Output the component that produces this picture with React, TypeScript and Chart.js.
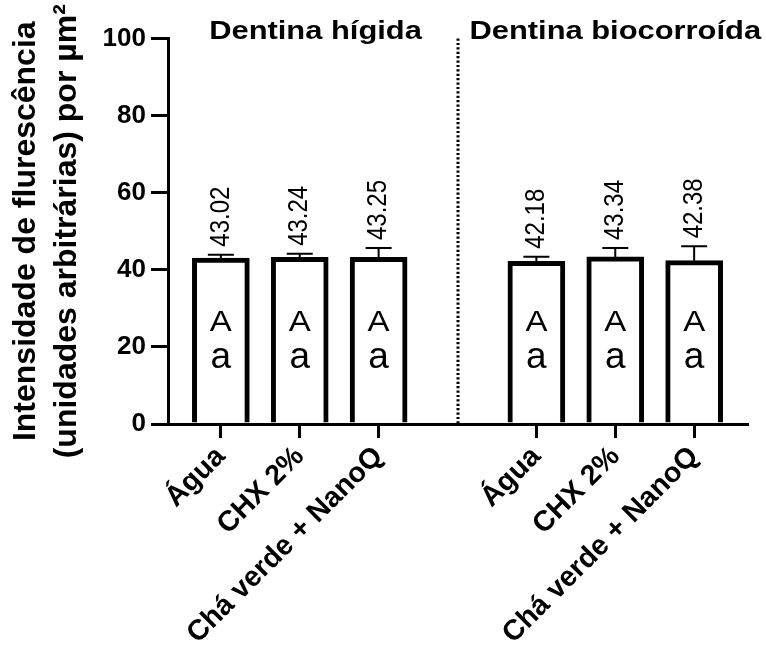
import React, { useEffect, useRef } from 'react';
import { Chart, registerables } from 'chart.js';

Chart.register(...registerables);

const FONT = "'Liberation Sans', Arial, Helvetica, sans-serif";

const categories = ['Água', 'CHX 2%', 'Chá verde + NanoQ', 'Água', 'CHX 2%', 'Chá verde + NanoQ'];
const groupTitles = ['Dentina hígida', 'Dentina biocorroída'];
const means = [43.02, 43.24, 43.25, 42.18, 43.34, 42.38];
const sds = [0.9, 0.9, 2.4, 1.2, 2.3, 3.7];
const upperLetters = ['A', 'A', 'A', 'A', 'A', 'A'];
const lowerLetters = ['a', 'a', 'a', 'a', 'a', 'a'];
const yTitle = ['Intensidade de flurescência', '(unidades arbitrárias) por µm²'];

// slot index for each bar: three bars, one empty slot (divider), three bars
const slotOf = (i: number) => (i < 3 ? i : i + 1);
const DIVIDER_SLOT = 3;
const TITLE_CENTERS = [1.2, 5.0];

const annotPlugin = {
  id: 'annot',
  afterDatasetsDraw(chart: any) {
    const ctx = chart.ctx as CanvasRenderingContext2D;
    const xs = chart.scales.x;
    const ys = chart.scales.y;
    const area = chart.chartArea;
    const meta = chart.getDatasetMeta(0);
    ctx.save();
    ctx.strokeStyle = '#000';
    ctx.fillStyle = '#000';

    // dotted divider
    const dx = Math.round(xs.getPixelForValue(DIVIDER_SLOT));
    ctx.lineWidth = 3;
    ctx.setLineDash([2.2, 2.2]);
    ctx.beginPath();
    ctx.moveTo(dx, area.top);
    ctx.lineTo(dx, area.bottom);
    ctx.stroke();
    ctx.setLineDash([]);

    meta.data.forEach((bar: any, i: number) => {
      const x = bar.x;
      const yTop = ys.getPixelForValue(means[i]);
      const yCap = ys.getPixelForValue(means[i] + sds[i]);
      ctx.lineWidth = 2;
      ctx.beginPath();
      ctx.moveTo(x, yTop);
      ctx.lineTo(x, yCap);
      ctx.moveTo(x - 13, yCap);
      ctx.lineTo(x + 13, yCap);
      ctx.stroke();

      // value label (rotated)
      ctx.save();
      ctx.translate(x, yCap - 8);
      ctx.rotate(-Math.PI / 2);
      ctx.scale(1, 1.16);
      ctx.font = `24px ${FONT}`;
      ctx.textAlign = 'left';
      ctx.textBaseline = 'middle';
      ctx.fillText(means[i].toFixed(2), 0, 0);
      ctx.restore();

      // letters
      ctx.textAlign = 'center';
      ctx.textBaseline = 'alphabetic';
      ctx.save();
      ctx.translate(x, ys.getPixelForValue(24.1));
      ctx.scale(1.1, 1);
      ctx.font = `30px ${FONT}`;
      ctx.fillText(upperLetters[i], 0, 0);
      ctx.restore();
      ctx.font = `37px ${FONT}`;
      ctx.fillText(lowerLetters[i], x, ys.getPixelForValue(14.5));
    });

    // group titles
    groupTitles.forEach((t, g) => {
      ctx.save();
      ctx.translate(xs.getPixelForValue(TITLE_CENTERS[g]), area.top);
      ctx.scale(1.235, 1);
      ctx.font = `bold 25px ${FONT}`;
      ctx.textAlign = 'center';
      ctx.textBaseline = 'alphabetic';
      ctx.fillText(t, 0, 0);
      ctx.restore();
    });
    ctx.restore();
  },
};

export default function App() {
  const ref = useRef<HTMLCanvasElement>(null);

  useEffect(() => {
    const canvas = ref.current;
    if (!canvas) return;
    const chart = new Chart(canvas, {
      type: 'bar',
      data: {
        datasets: [
          {
            data: means.map((m, i) => ({ x: slotOf(i), y: m })),
            backgroundColor: '#ffffff',
            borderColor: '#000000',
            borderWidth: 5,
            borderSkipped: 'start',
            barThickness: 57,
          } as any,
        ],
      },
      options: {
        animation: false,
        responsive: false,
        devicePixelRatio: 1,
        layout: { padding: { top: 38.5, right: 19, left: 0, bottom: 0 } },
        plugins: { legend: { display: false }, tooltip: { enabled: false } },
        scales: {
          x: {
            type: 'linear',
            min: -0.67,
            max: 6.67,
            offset: false,
            afterBuildTicks: (scale: any) => {
              scale.ticks = categories.map((_, i) => ({ value: slotOf(i) }));
            },
            afterFit: (scale: any) => {
              scale.height = 231;
            },
            border: { display: true, color: '#000', width: 3 },
            grid: {
              display: true,
              offset: false,
              drawOnChartArea: false,
              drawTicks: true,
              tickLength: 14,
              tickWidth: 3,
              tickColor: '#000',
              lineWidth: 3,
              color: '#000',
            },
            ticks: {
              autoSkip: false,
              minRotation: 45,
              maxRotation: 45,
              padding: 2,
              color: '#000',
              font: { family: FONT, size: 28.5, weight: 'bold' },
              callback: (_v: any, idx: number) => categories[idx],
            },
          } as any,
          y: {
            type: 'linear',
            min: 0,
            max: 100,
            afterFit: (scale: any) => {
              scale.width = 168;
            },
            border: { display: true, color: '#000', width: 3 },
            grid: {
              display: true,
              drawOnChartArea: false,
              drawTicks: true,
              tickLength: 17,
              tickWidth: 3,
              tickColor: '#000',
              lineWidth: 3,
              color: '#000',
            },
            ticks: {
              stepSize: 20,
              padding: 5,
              color: '#000',
              font: { family: FONT, size: 26, weight: 'bold' },
            },
            title: {
              display: true,
              text: yTitle,
              color: '#000',
              font: { family: FONT, size: 32, weight: 'bold', lineHeight: 1.27 },
              padding: { top: 6, bottom: 0 },
            },
          } as any,
        },
      },
      plugins: [annotPlugin],
    });
    return () => chart.destroy();
  }, []);

  return (
    <div style={{ position: 'fixed', left: 0, top: 0, width: 766, height: 655, background: '#fff' }}>
      <canvas ref={ref} width={766} height={655} style={{ display: 'block', width: 766, height: 655 }} />
    </div>
  );
}
